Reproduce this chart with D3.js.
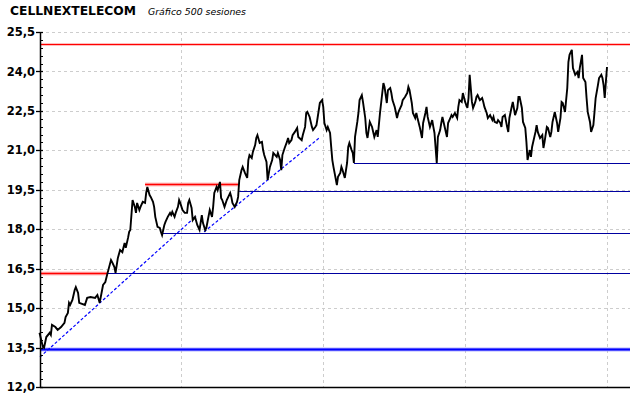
<!DOCTYPE html>
<html>
<head>
<meta charset="utf-8">
<script src="https://cdn.jsdelivr.net/npm/d3@7"></script>
<style>
  body { margin: 0; background: #fff; }
  svg { display: block; }
</style>
</head>
<body>
<div id="grafico"></div>
<script>
// sesiones (0..500) y cierres
const sesiones = [0,3,4,6,9,10,11,14,16,19,22,23,25,26,27,29,31,32,34,35,40,42,45,49,51,53,56,58,60,63,64,66,67,69,71,73,75,76,78,79,80,82,84,85,86,88,89,91,93,94,95,97,98,100,101,102,104,106,107,108,110,111,113,115,116,117,119,120,122,123,124,126,128,130,131,132,134,135,137,139,141,143,144,146,147,150,152,153,154,156,157,159,160,161,163,165,168,169,170,172,174,175,176,178,179,181,183,184,185,187,188,190,191,192,194,196,197,198,200,201,203,205,206,209,210,212,213,214,216,218,219,220,222,223,225,227,228,229,231,232,234,235,236,238,240,241,243,244,245,247,249,250,251,253,254,256,257,258,259,260,262,263,265,266,267,269,271,272,273,275,276,277,278,280,281,282,284,285,287,288,289,291,293,294,295,297,298,300,302,303,304,306,307,309,310,311,313,315,316,317,319,320,322,324,325,326,328,329,331,332,333,335,337,338,340,341,342,344,346,347,348,350,351,353,354,355,357,359,360,362,363,364,366,368,369,370,372,373,375,377,378,379,381,382,384,385,386,388,390,391,392,394,395,397,399,400,401,403,404,406,407,408,410,412,413,414,416,417,419,421,422,423,425,426,428,429,430,432,433,434,437,438,439,441,443,444,445,447,448,450,451,452,454,456,457,459,460,461,463,465,466,467,469,470,472,474,475,476,478,479,481,482,483,485,486,488,489,490,492,493,495,496,497,498,499,500];
const cierres = [14.06,13.52,13.49,13.90,14.06,13.98,14.36,14.28,14.17,14.28,14.44,14.66,14.82,15.20,15.12,15.31,15.69,15.80,15.58,15.20,15.12,15.39,15.42,15.39,15.50,15.20,15.88,15.99,16.34,16.83,16.75,16.56,16.34,16.90,17.21,17.13,17.48,17.29,17.67,17.90,17.97,19.11,18.85,18.62,19.00,18.73,18.85,19.04,19.00,19.38,19.61,19.30,19.23,19.04,18.85,18.47,18.09,18.05,17.90,17.78,18.16,18.28,18.47,18.62,18.54,18.66,18.47,18.62,18.85,19.11,19.00,18.73,18.62,18.62,19.00,19.11,18.81,18.35,18.47,18.16,17.97,18.54,18.24,17.97,18.05,18.73,18.47,18.85,19.38,19.61,19.49,19.80,19.19,19.11,18.85,19.11,19.38,19.23,19.00,18.85,19.04,19.23,19.87,20.25,20.37,20.14,19.95,20.63,20.82,20.71,20.94,21.20,21.47,21.58,21.28,21.32,21.01,20.82,20.56,19.87,20.37,20.63,20.90,20.75,20.90,20.63,20.25,20.82,21.09,21.32,21.47,21.28,21.39,21.58,21.70,21.85,21.51,21.47,21.39,21.58,21.89,22.42,22.46,22.27,21.89,21.77,21.89,21.96,22.23,22.80,22.91,22.65,22.04,21.77,21.89,21.66,21.13,20.63,20.37,20.14,19.68,19.99,20.14,20.37,20.25,19.95,20.52,21.13,21.28,21.01,20.90,20.52,21.51,22.08,22.42,22.91,23.10,22.84,22.23,21.66,21.47,22.08,21.89,21.70,21.51,21.77,21.51,22.42,23.18,23.56,23.41,22.80,23.29,23.37,23.18,22.91,22.65,22.23,22.42,22.53,22.72,22.91,23.03,23.18,23.41,23.29,22.80,22.42,22.23,22.42,22.23,21.89,21.47,22.04,22.42,22.65,22.27,21.89,22.15,21.89,21.66,20.52,21.51,21.77,22.04,22.27,21.89,21.51,22.04,22.23,22.34,22.27,22.42,22.23,22.65,22.91,22.84,23.18,22.84,22.61,22.99,23.87,22.84,22.61,22.84,23.03,23.10,22.91,22.99,22.84,22.65,22.42,22.23,22.34,22.15,22.27,22.08,22.04,22.15,22.04,21.89,22.27,22.34,21.89,21.70,22.23,22.65,22.84,22.34,22.61,23.03,23.03,22.61,22.08,21.85,21.32,20.63,21.01,20.75,21.13,21.70,21.96,21.70,21.47,21.58,21.09,21.32,21.89,21.85,21.51,21.70,22.08,22.46,22.04,21.70,22.23,22.84,22.80,22.46,23.37,24.36,24.63,24.82,24.13,23.87,23.98,23.75,24.13,24.63,23.75,23.60,22.99,22.46,22.08,21.70,21.96,22.46,22.99,23.48,23.75,23.87,23.75,23.48,22.99,23.60,24.17];

const ticksY = [12, 13.5, 15, 16.5, 18, 19.5, 21, 22.5, 24, 25.5];
const gridX = [125, 250, 375, 500];

// niveles horizontales
const resistencia = 25.03;
const rojosNivel = [19.72, 16.35];
const rojosDesde = [93, 0];
const rojosHasta = [175, 60];
const soportes = [20.51, 19.47, 17.85, 16.33];
const soportesDesde = [277, 176, 107, 60];
const nivelAzul = 13.45;
// lineas de tendencia [sesion, precio, sesion, precio]
const tendencias = [[0, 13.14, 138, 18.50], [145, 17.90, 247, 21.49]];

const W = 640, H = 398;
const mIzq = 40, mDer = 630, mSup = 32, mInf = 387;

const svg = d3.select("#grafico").append("svg")
    .attr("width", W).attr("height", H);

const x = d3.scaleLinear().domain([0, 500]).range([39.5, 607]);
const y = d3.scaleLinear().domain([12, 25.5]).range([mInf, mSup]);

// titulo
svg.append("text")
    .attr("x", 10).attr("y", 15)
    .attr("textLength", 126).attr("lengthAdjust", "spacingAndGlyphs")
    .style("font-family", "DejaVu Sans").style("font-weight", "bold")
    .style("font-size", "11.5px")
    .text("CELLNEXTELECOM");
svg.append("text")
    .attr("x", 148).attr("y", 15)
    .attr("textLength", 98).attr("lengthAdjust", "spacingAndGlyphs")
    .style("font-family", "DejaVu Sans").style("font-style", "italic")
    .style("font-size", "9.5px")
    .text("Gráfico 500 sesiones");

// rejilla
const rejilla = svg.append("g");
rejilla.selectAll("line.h")
    .data(ticksY.slice(1))
    .enter().append("line")
    .attr("x1", mIzq).attr("x2", mDer)
    .attr("y1", d => Math.round(y(d)) + 0.5).attr("y2", d => Math.round(y(d)) + 0.5)
    .attr("stroke", "#cdcdcd").attr("stroke-dasharray", "3,3");
rejilla.selectAll("line.v")
    .data(gridX)
    .enter().append("line")
    .attr("x1", d => Math.round(x(d)) + 0.5).attr("x2", d => Math.round(x(d)) + 0.5)
    .attr("y1", mSup).attr("y2", mInf)
    .attr("stroke", "#cdcdcd").attr("stroke-dasharray", "3,3");

const py = d => Math.round(y(d)) + 0.5;

// soportes
svg.selectAll("line.sop")
    .data(soportes)
    .enter().append("line")
    .attr("x1", (d, i) => x(soportesDesde[i])).attr("x2", mDer)
    .attr("y1", py).attr("y2", py)
    .attr("stroke", "#0000a0").attr("stroke-width", 1.2);

// resistencia
svg.append("line")
    .attr("x1", mIzq).attr("x2", mDer)
    .attr("y1", py(resistencia)).attr("y2", py(resistencia))
    .attr("stroke", "#ff0000").attr("stroke-width", 1.3);

// marcas rojas gruesas
rojosNivel.forEach(function (v, i) {
    [["#ff8c8c", 3.5], ["#ff0000", 1.2]].forEach(function (s) {
        svg.append("line")
            .attr("x1", Math.max(mIzq, x(rojosDesde[i]))).attr("x2", x(rojosHasta[i]))
            .attr("y1", py(v)).attr("y2", py(v))
            .attr("stroke", s[0]).attr("stroke-width", s[1]);
    });
});

// nivel azul
[["#6a6aff", 3.5], ["#0000ff", 1.3]].forEach(function (s) {
    svg.append("line")
        .attr("x1", mIzq).attr("x2", mDer)
        .attr("y1", py(nivelAzul)).attr("y2", py(nivelAzul))
        .attr("stroke", s[0]).attr("stroke-width", s[1]);
});

// tendencias
svg.selectAll("line.tend")
    .data(tendencias)
    .enter().append("line")
    .attr("x1", d => Math.max(mIzq, x(d[0]))).attr("y1", d => y(d[1]))
    .attr("x2", d => x(d[2])).attr("y2", d => y(d[3]))
    .attr("stroke", "#0000ff").attr("stroke-width", 1.2)
    .attr("stroke-dasharray", "3,2");

// cotizacion
const linea = d3.line()
    .x((d, i) => x(sesiones[i]))
    .y(d => y(d));
svg.append("path")
    .datum(cierres)
    .attr("d", linea)
    .attr("fill", "none")
    .attr("stroke", "#000")
    .attr("stroke-width", 1.9)
    .attr("stroke-linejoin", "miter");

// eje y
const eje = svg.append("g");
eje.append("line")
    .attr("x1", mIzq + 0.5).attr("x2", mIzq + 0.5)
    .attr("y1", mSup).attr("y2", mInf + 1)
    .attr("stroke", "#000").attr("stroke-width", 1.5);
eje.append("line")
    .attr("x1", mIzq).attr("x2", mDer)
    .attr("y1", mInf + 0.5).attr("y2", mInf + 0.5)
    .attr("stroke", "#000").attr("stroke-width", 1.5);

const menores = d3.range(12, 25.51, 0.3);
eje.selectAll("line.menor")
    .data(menores)
    .enter().append("line")
    .attr("x1", mIzq).attr("x2", mIzq + 3)
    .attr("y1", py).attr("y2", py)
    .attr("stroke", "#000");
eje.selectAll("line.mayor")
    .data(ticksY)
    .enter().append("line")
    .attr("x1", mIzq - 4).attr("x2", mIzq + 3)
    .attr("y1", py).attr("y2", py)
    .attr("stroke", "#000").attr("stroke-width", 1.3);

const fmt = d3.format(".1f");
eje.selectAll("text")
    .data(ticksY)
    .enter().append("text")
    .attr("x", 35).attr("y", d => y(d))
    .attr("dy", "0.36em")
    .attr("text-anchor", "end")
    .style("font-family", "DejaVu Sans").style("font-weight", "bold")
    .style("font-size", "11.5px")
    .text(d => fmt(d).replace(".", ","));
</script>
</body>
</html>
